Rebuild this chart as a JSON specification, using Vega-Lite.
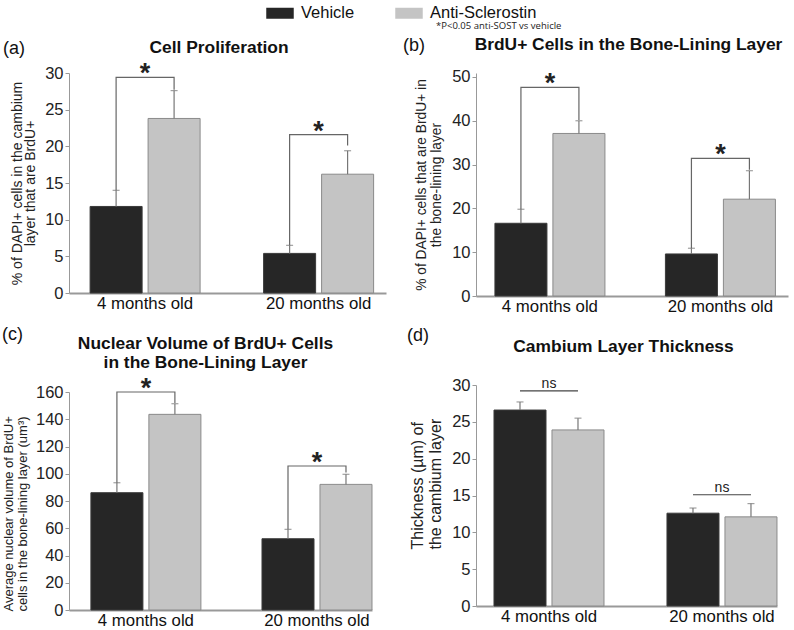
{
  "$schema": "https://vega.github.io/schema/vega-lite/v6.json",
  "padding": {"left": 2, "top": 2, "right": 4, "bottom": 0},
  "background": "white",
  "title": {"text": "*P<0.05 anti-SOST vs vehicle", "anchor": "start", "frame": "group", "dx": 367, "offset": -28, "fontSize": 9.5, "fontWeight": "normal", "font": "Open Sans", "color": "#222"},
  "datasets": {
    "a_bars": [
      {"age": "4 months old", "group": "Vehicle", "mean": 11.8, "upper": 14.0},
      {"age": "4 months old", "group": "Anti-Sclerostin", "mean": 23.8, "upper": 27.6},
      {"age": "20 months old", "group": "Vehicle", "mean": 5.4, "upper": 6.5},
      {"age": "20 months old", "group": "Anti-Sclerostin", "mean": 16.2, "upper": 19.4}
    ],
    "a_sig": [
      {"age": "4 months old", "group": "Vehicle", "step": 1, "value": 14.0},
      {"age": "4 months old", "group": "Vehicle", "step": 2, "value": 29.4},
      {"age": "4 months old", "group": "Anti-Sclerostin", "step": 3, "value": 29.4},
      {"age": "4 months old", "group": "Anti-Sclerostin", "step": 4, "value": 27.7},
      {"age": "20 months old", "group": "Vehicle", "step": 1, "value": 6.5},
      {"age": "20 months old", "group": "Vehicle", "step": 2, "value": 21.6},
      {"age": "20 months old", "group": "Anti-Sclerostin", "step": 3, "value": 21.6},
      {"age": "20 months old", "group": "Anti-Sclerostin", "step": 4, "value": 20.1}
    ],
    "a_lab": [
      {"age": "4 months old", "label": "*", "value": 29.4},
      {"age": "20 months old", "label": "*", "value": 21.6}
    ],
    "b_bars": [
      {"age": "4 months old", "group": "Vehicle", "mean": 16.6, "upper": 19.8},
      {"age": "4 months old", "group": "Anti-Sclerostin", "mean": 37.1, "upper": 40.0},
      {"age": "20 months old", "group": "Vehicle", "mean": 9.6, "upper": 10.9},
      {"age": "20 months old", "group": "Anti-Sclerostin", "mean": 22.1, "upper": 28.6}
    ],
    "b_sig": [
      {"age": "4 months old", "group": "Vehicle", "step": 1, "value": 19.8},
      {"age": "4 months old", "group": "Vehicle", "step": 2, "value": 47.6},
      {"age": "4 months old", "group": "Anti-Sclerostin", "step": 3, "value": 47.6},
      {"age": "4 months old", "group": "Anti-Sclerostin", "step": 4, "value": 40.2},
      {"age": "20 months old", "group": "Vehicle", "step": 1, "value": 10.9},
      {"age": "20 months old", "group": "Vehicle", "step": 2, "value": 31.4},
      {"age": "20 months old", "group": "Anti-Sclerostin", "step": 3, "value": 31.4},
      {"age": "20 months old", "group": "Anti-Sclerostin", "step": 4, "value": 28.8}
    ],
    "b_lab": [
      {"age": "4 months old", "label": "*", "value": 47.6},
      {"age": "20 months old", "label": "*", "value": 31.4}
    ],
    "c_bars": [
      {"age": "4 months old", "group": "Vehicle", "mean": 86.1, "upper": 93.4},
      {"age": "4 months old", "group": "Anti-Sclerostin", "mean": 143.6, "upper": 151.4},
      {"age": "20 months old", "group": "Vehicle", "mean": 52.3, "upper": 59.2},
      {"age": "20 months old", "group": "Anti-Sclerostin", "mean": 92.2, "upper": 99.6}
    ],
    "c_sig": [
      {"age": "4 months old", "group": "Vehicle", "step": 1, "value": 93.4},
      {"age": "4 months old", "group": "Vehicle", "step": 2, "value": 160},
      {"age": "4 months old", "group": "Anti-Sclerostin", "step": 3, "value": 160},
      {"age": "4 months old", "group": "Anti-Sclerostin", "step": 4, "value": 152},
      {"age": "20 months old", "group": "Vehicle", "step": 1, "value": 59.2},
      {"age": "20 months old", "group": "Vehicle", "step": 2, "value": 105.7},
      {"age": "20 months old", "group": "Anti-Sclerostin", "step": 3, "value": 105.7},
      {"age": "20 months old", "group": "Anti-Sclerostin", "step": 4, "value": 101}
    ],
    "c_lab": [
      {"age": "4 months old", "label": "*", "value": 160},
      {"age": "20 months old", "label": "*", "value": 105.7}
    ],
    "d_bars": [
      {"age": "4 months old", "group": "Vehicle", "mean": 26.6, "upper": 27.7},
      {"age": "4 months old", "group": "Anti-Sclerostin", "mean": 23.9, "upper": 25.5},
      {"age": "20 months old", "group": "Vehicle", "mean": 12.6, "upper": 13.3},
      {"age": "20 months old", "group": "Anti-Sclerostin", "mean": 12.1, "upper": 13.9}
    ],
    "d_sig": [
      {"age": "4 months old", "group": "Vehicle", "step": 1, "value": 29.2},
      {"age": "4 months old", "group": "Anti-Sclerostin", "step": 2, "value": 29.2},
      {"age": "20 months old", "group": "Vehicle", "step": 1, "value": 15.1},
      {"age": "20 months old", "group": "Anti-Sclerostin", "step": 2, "value": 15.1}
    ],
    "d_lab": [
      {"age": "4 months old", "label": "ns", "value": 29.2},
      {"age": "20 months old", "label": "ns", "value": 15.1}
    ]
  },
  "hconcat": [
    {
      "spacing": 14,
      "vconcat": [
        {
          "width": 317, "height": 220,
          "title": {"text": "(a)", "anchor": "start", "frame": "group", "dx": -66, "offset": -20},
          "resolve": {"axis": {"x": "independent"}},
          "layer": [
            {
              "data": {"name": "a_bars"},
              "mark": {"type": "bar", "strokeWidth": 1},
              "encoding": {
                "x": {"field": "age", "type": "nominal", "scale": {"domain": ["4 months old", "20 months old"], "paddingInner": 0.366, "paddingOuter": 0.0965, "align": 0.63}, "axis": {"orient": "bottom", "title": null}},
                "xOffset": {"field": "group", "type": "nominal", "scale": {"domain": ["Vehicle", "Anti-Sclerostin"], "paddingInner": 0.103}},
                "y": {"field": "mean", "type": "quantitative", "scale": {"domain": [0, 30], "nice": false}, "axis": {"values": [0, 5, 10, 15, 20, 25, 30], "title": ["% of DAPI+ cells in the cambium", "layer that are BrdU+"], "titleFontSize": 14, "titleLineHeight": 13.5, "titlePadding": 7}},
                "color": {"field": "group", "type": "nominal", "scale": {"domain": ["Vehicle", "Anti-Sclerostin"], "range": ["#262626", "#c4c4c4"]}, "legend": {"orient": "none", "legendX": 200, "legendY": -71, "direction": "horizontal", "title": null}},
                "stroke": {"field": "group", "type": "nominal", "scale": {"domain": ["Vehicle", "Anti-Sclerostin"], "range": ["#3a3a3a", "#8a8a8a"]}, "legend": null}
              }
            },
            {
              "data": {"name": "a_bars"},
              "mark": {"type": "rule", "color": "#777", "strokeWidth": 1.2},
              "encoding": {
                "x": {"field": "age", "type": "nominal", "axis": null},
                "xOffset": {"field": "group", "type": "nominal"},
                "y": {"field": "mean", "type": "quantitative", "axis": {"values": [0, 5, 10, 15, 20, 25, 30], "title": ["% of DAPI+ cells in the cambium", "layer that are BrdU+"], "titleFontSize": 14, "titleLineHeight": 13.5, "titlePadding": 7}},
                "y2": {"field": "upper"}
              }
            },
            {
              "data": {"name": "a_bars"},
              "mark": {"type": "tick", "orient": "horizontal", "size": 7, "thickness": 1.2, "color": "#777"},
              "encoding": {
                "x": {"field": "age", "type": "nominal", "axis": null},
                "xOffset": {"field": "group", "type": "nominal"},
                "y": {"field": "upper", "type": "quantitative", "axis": {"values": [0, 5, 10, 15, 20, 25, 30], "title": ["% of DAPI+ cells in the cambium", "layer that are BrdU+"], "titleFontSize": 14, "titleLineHeight": 13.5, "titlePadding": 7}}
              }
            },
            {
              "data": {"name": "a_sig"},
              "mark": {"type": "line", "color": "#666", "strokeWidth": 1.2},
              "encoding": {
                "x": {"field": "age", "type": "nominal", "axis": {"orient": "top", "title": "Cell Proliferation", "labels": false, "ticks": false, "domain": false, "titleX": 149.5, "titlePadding": 17}},
                "xOffset": {"field": "group", "type": "nominal"},
                "y": {"field": "value", "type": "quantitative", "axis": {"values": [0, 5, 10, 15, 20, 25, 30], "title": ["% of DAPI+ cells in the cambium", "layer that are BrdU+"], "titleFontSize": 14, "titleLineHeight": 13.5, "titlePadding": 7}},
                "detail": {"field": "age"},
                "order": {"field": "step", "type": "quantitative"}
              }
            },
            {
              "data": {"name": "a_lab"},
              "mark": {"type": "text", "fontSize": 27, "fontWeight": "bold", "baseline": "alphabetic", "dy": 5, "color": "#222"},
              "encoding": {
                "x": {"field": "age", "type": "nominal", "axis": null},
                "y": {"field": "value", "type": "quantitative", "axis": {"values": [0, 5, 10, 15, 20, 25, 30], "title": ["% of DAPI+ cells in the cambium", "layer that are BrdU+"], "titleFontSize": 14, "titleLineHeight": 13.5, "titlePadding": 7}},
                "text": {"field": "label"}
              }
            }
          ]
        },
        {
          "width": 303, "height": 218,
          "title": {"text": "(c)", "anchor": "start", "frame": "group", "dx": -67, "offset": -10},
          "resolve": {"axis": {"x": "independent"}},
          "layer": [
            {
              "data": {"name": "c_bars"},
              "mark": {"type": "bar", "strokeWidth": 1},
              "encoding": {
                "x": {"field": "age", "type": "nominal", "scale": {"domain": ["4 months old", "20 months old"], "paddingInner": 0.357, "paddingOuter": 0.064, "align": 1}, "axis": {"orient": "bottom", "title": null}},
                "xOffset": {"field": "group", "type": "nominal", "scale": {"domain": ["Vehicle", "Anti-Sclerostin"], "paddingInner": 0.103}},
                "y": {"field": "mean", "type": "quantitative", "scale": {"domain": [0, 160], "nice": false}, "axis": {"values": [0, 20, 40, 60, 80, 100, 120, 140, 160], "title": ["Average nuclear volume of BrdU+", "cells in  the bone-lining layer (um³)"], "titleFontSize": 13, "titleLineHeight": 14, "titlePadding": 6, "titleAlign": "left", "titleY": 219}},
                "color": {"field": "group", "type": "nominal", "scale": {"domain": ["Vehicle", "Anti-Sclerostin"], "range": ["#262626", "#c4c4c4"]}, "legend": {"orient": "none", "legendX": 200, "legendY": -71, "direction": "horizontal", "title": null}},
                "stroke": {"field": "group", "type": "nominal", "scale": {"domain": ["Vehicle", "Anti-Sclerostin"], "range": ["#3a3a3a", "#8a8a8a"]}, "legend": null}
              }
            },
            {
              "data": {"name": "c_bars"},
              "mark": {"type": "rule", "color": "#777", "strokeWidth": 1.2},
              "encoding": {
                "x": {"field": "age", "type": "nominal", "axis": null},
                "xOffset": {"field": "group", "type": "nominal"},
                "y": {"field": "mean", "type": "quantitative", "axis": {"values": [0, 20, 40, 60, 80, 100, 120, 140, 160], "title": ["Average nuclear volume of BrdU+", "cells in  the bone-lining layer (um³)"], "titleFontSize": 13, "titleLineHeight": 14, "titlePadding": 6, "titleAlign": "left", "titleY": 219}},
                "y2": {"field": "upper"}
              }
            },
            {
              "data": {"name": "c_bars"},
              "mark": {"type": "tick", "orient": "horizontal", "size": 7, "thickness": 1.2, "color": "#777"},
              "encoding": {
                "x": {"field": "age", "type": "nominal", "axis": null},
                "xOffset": {"field": "group", "type": "nominal"},
                "y": {"field": "upper", "type": "quantitative", "axis": {"values": [0, 20, 40, 60, 80, 100, 120, 140, 160], "title": ["Average nuclear volume of BrdU+", "cells in  the bone-lining layer (um³)"], "titleFontSize": 13, "titleLineHeight": 14, "titlePadding": 6, "titleAlign": "left", "titleY": 219}}
              }
            },
            {
              "data": {"name": "c_sig"},
              "mark": {"type": "line", "color": "#666", "strokeWidth": 1.2},
              "encoding": {
                "x": {"field": "age", "type": "nominal", "axis": {"orient": "top", "title": ["Nuclear Volume of BrdU+ Cells", "in the Bone-Lining Layer"], "labels": false, "ticks": false, "domain": false, "titleX": 136, "titlePadding": 21, "titleLineHeight": 19}},
                "xOffset": {"field": "group", "type": "nominal"},
                "y": {"field": "value", "type": "quantitative", "axis": {"values": [0, 20, 40, 60, 80, 100, 120, 140, 160], "title": ["Average nuclear volume of BrdU+", "cells in  the bone-lining layer (um³)"], "titleFontSize": 13, "titleLineHeight": 14, "titlePadding": 6, "titleAlign": "left", "titleY": 219}},
                "detail": {"field": "age"},
                "order": {"field": "step", "type": "quantitative"}
              }
            },
            {
              "data": {"name": "c_lab"},
              "mark": {"type": "text", "fontSize": 27, "fontWeight": "bold", "baseline": "alphabetic", "dy": 5, "color": "#222"},
              "encoding": {
                "x": {"field": "age", "type": "nominal", "axis": null},
                "y": {"field": "value", "type": "quantitative", "axis": {"values": [0, 20, 40, 60, 80, 100, 120, 140, 160], "title": ["Average nuclear volume of BrdU+", "cells in  the bone-lining layer (um³)"], "titleFontSize": 13, "titleLineHeight": 14, "titlePadding": 6, "titleAlign": "left", "titleY": 219}},
                "text": {"field": "label"}
              }
            }
          ]
        }
      ]
    },
    {
      "spacing": 12,
      "vconcat": [
        {
          "width": 312, "height": 223,
          "title": {"text": "(b)", "anchor": "start", "frame": "group", "dx": -73, "offset": -20},
          "resolve": {"axis": {"x": "independent"}},
          "layer": [
            {
              "data": {"name": "b_bars"},
              "mark": {"type": "bar", "strokeWidth": 1},
              "encoding": {
                "x": {"field": "age", "type": "nominal", "scale": {"domain": ["4 months old", "20 months old"], "paddingInner": 0.355, "paddingOuter": 0.0925, "align": 0.6}, "axis": {"orient": "bottom", "title": null}},
                "xOffset": {"field": "group", "type": "nominal", "scale": {"domain": ["Vehicle", "Anti-Sclerostin"], "paddingInner": 0.103}},
                "y": {"field": "mean", "type": "quantitative", "scale": {"domain": [0, 50.9], "nice": false}, "axis": {"values": [0, 10, 20, 30, 40, 50], "title": ["% of DAPI+ cells that are BrdU+ in", "the bone-lining layer"], "titleFontSize": 13.8, "titleLineHeight": 15, "titlePadding": 8}},
                "color": {"field": "group", "type": "nominal", "scale": {"domain": ["Vehicle", "Anti-Sclerostin"], "range": ["#262626", "#c4c4c4"]}, "legend": {"orient": "none", "legendX": 200, "legendY": -71, "direction": "horizontal", "title": null}},
                "stroke": {"field": "group", "type": "nominal", "scale": {"domain": ["Vehicle", "Anti-Sclerostin"], "range": ["#3a3a3a", "#8a8a8a"]}, "legend": null}
              }
            },
            {
              "data": {"name": "b_bars"},
              "mark": {"type": "rule", "color": "#777", "strokeWidth": 1.2},
              "encoding": {
                "x": {"field": "age", "type": "nominal", "axis": null},
                "xOffset": {"field": "group", "type": "nominal"},
                "y": {"field": "mean", "type": "quantitative", "axis": {"values": [0, 10, 20, 30, 40, 50], "title": ["% of DAPI+ cells that are BrdU+ in", "the bone-lining layer"], "titleFontSize": 13.8, "titleLineHeight": 15, "titlePadding": 8}},
                "y2": {"field": "upper"}
              }
            },
            {
              "data": {"name": "b_bars"},
              "mark": {"type": "tick", "orient": "horizontal", "size": 7, "thickness": 1.2, "color": "#777"},
              "encoding": {
                "x": {"field": "age", "type": "nominal", "axis": null},
                "xOffset": {"field": "group", "type": "nominal"},
                "y": {"field": "upper", "type": "quantitative", "axis": {"values": [0, 10, 20, 30, 40, 50], "title": ["% of DAPI+ cells that are BrdU+ in", "the bone-lining layer"], "titleFontSize": 13.8, "titleLineHeight": 15, "titlePadding": 8}}
              }
            },
            {
              "data": {"name": "b_sig"},
              "mark": {"type": "line", "color": "#666", "strokeWidth": 1.2},
              "encoding": {
                "x": {"field": "age", "type": "nominal", "axis": {"orient": "top", "title": "BrdU+ Cells in the Bone-Lining Layer", "labels": false, "ticks": false, "domain": false, "titleX": 152, "titlePadding": 20}},
                "xOffset": {"field": "group", "type": "nominal"},
                "y": {"field": "value", "type": "quantitative", "axis": {"values": [0, 10, 20, 30, 40, 50], "title": ["% of DAPI+ cells that are BrdU+ in", "the bone-lining layer"], "titleFontSize": 13.8, "titleLineHeight": 15, "titlePadding": 8}},
                "detail": {"field": "age"},
                "order": {"field": "step", "type": "quantitative"}
              }
            },
            {
              "data": {"name": "b_lab"},
              "mark": {"type": "text", "fontSize": 27, "fontWeight": "bold", "baseline": "alphabetic", "dy": 5, "color": "#222"},
              "encoding": {
                "x": {"field": "age", "type": "nominal", "axis": null},
                "y": {"field": "value", "type": "quantitative", "axis": {"values": [0, 10, 20, 30, 40, 50], "title": ["% of DAPI+ cells that are BrdU+ in", "the bone-lining layer"], "titleFontSize": 13.8, "titleLineHeight": 15, "titlePadding": 8}},
                "text": {"field": "label"}
              }
            }
          ]
        },
        {
          "width": 301, "height": 221,
          "title": {"text": "(d)", "anchor": "start", "frame": "group", "dx": -69, "offset": -8},
          "resolve": {"axis": {"x": "independent"}},
          "layer": [
            {
              "data": {"name": "d_bars"},
              "mark": {"type": "bar", "strokeWidth": 1},
              "encoding": {
                "x": {"field": "age", "type": "nominal", "scale": {"domain": ["4 months old", "20 months old"], "paddingInner": 0.364, "paddingOuter": 0.052, "align": 1}, "axis": {"orient": "bottom", "title": null}},
                "xOffset": {"field": "group", "type": "nominal", "scale": {"domain": ["Vehicle", "Anti-Sclerostin"], "paddingInner": 0.103}},
                "y": {"field": "mean", "type": "quantitative", "scale": {"domain": [0, 30], "nice": false}, "axis": {"values": [0, 5, 10, 15, 20, 25, 30], "title": ["Thickness (µm) of", "the cambium layer"], "titleFontSize": 16, "titleLineHeight": 18, "titlePadding": 8, "titleAlign": "left", "titleY": 164}},
                "color": {"field": "group", "type": "nominal", "scale": {"domain": ["Vehicle", "Anti-Sclerostin"], "range": ["#262626", "#c4c4c4"]}, "legend": {"orient": "none", "legendX": 200, "legendY": -71, "direction": "horizontal", "title": null}},
                "stroke": {"field": "group", "type": "nominal", "scale": {"domain": ["Vehicle", "Anti-Sclerostin"], "range": ["#3a3a3a", "#8a8a8a"]}, "legend": null}
              }
            },
            {
              "data": {"name": "d_bars"},
              "mark": {"type": "rule", "color": "#777", "strokeWidth": 1.2},
              "encoding": {
                "x": {"field": "age", "type": "nominal", "axis": null},
                "xOffset": {"field": "group", "type": "nominal"},
                "y": {"field": "mean", "type": "quantitative", "axis": {"values": [0, 5, 10, 15, 20, 25, 30], "title": ["Thickness (µm) of", "the cambium layer"], "titleFontSize": 16, "titleLineHeight": 18, "titlePadding": 8, "titleAlign": "left", "titleY": 164}},
                "y2": {"field": "upper"}
              }
            },
            {
              "data": {"name": "d_bars"},
              "mark": {"type": "tick", "orient": "horizontal", "size": 7, "thickness": 1.2, "color": "#777"},
              "encoding": {
                "x": {"field": "age", "type": "nominal", "axis": null},
                "xOffset": {"field": "group", "type": "nominal"},
                "y": {"field": "upper", "type": "quantitative", "axis": {"values": [0, 5, 10, 15, 20, 25, 30], "title": ["Thickness (µm) of", "the cambium layer"], "titleFontSize": 16, "titleLineHeight": 18, "titlePadding": 8, "titleAlign": "left", "titleY": 164}}
              }
            },
            {
              "data": {"name": "d_sig"},
              "mark": {"type": "line", "color": "#444", "strokeWidth": 1.2},
              "encoding": {
                "x": {"field": "age", "type": "nominal", "axis": {"orient": "top", "title": "Cambium Layer Thickness", "labels": false, "ticks": false, "domain": false, "titleX": 147, "titlePadding": 30}},
                "xOffset": {"field": "group", "type": "nominal"},
                "y": {"field": "value", "type": "quantitative", "axis": {"values": [0, 5, 10, 15, 20, 25, 30], "title": ["Thickness (µm) of", "the cambium layer"], "titleFontSize": 16, "titleLineHeight": 18, "titlePadding": 8, "titleAlign": "left", "titleY": 164}},
                "detail": {"field": "age"},
                "order": {"field": "step", "type": "quantitative"}
              }
            },
            {
              "data": {"name": "d_lab"},
              "mark": {"type": "text", "fontSize": 14, "baseline": "alphabetic", "dy": -3, "color": "#222"},
              "encoding": {
                "x": {"field": "age", "type": "nominal", "axis": null},
                "y": {"field": "value", "type": "quantitative", "axis": {"values": [0, 5, 10, 15, 20, 25, 30], "title": ["Thickness (µm) of", "the cambium layer"], "titleFontSize": 16, "titleLineHeight": 18, "titlePadding": 8, "titleAlign": "left", "titleY": 164}},
                "text": {"field": "label"}
              }
            }
          ]
        }
      ]
    }
  ],
  "spacing": 17,
  "config": {
    "font": "Liberation Sans",
    "view": {"stroke": null},
    "title": {"fontSize": 18, "fontWeight": "normal", "color": "#111"},
    "axis": {"grid": false, "labelColor": "#222", "titleColor": "#222", "titleFontWeight": "normal"},
    "axisY": {"domainColor": "#999", "tickColor": "#999", "tickSize": 4, "labelFontSize": 16.5, "labelPadding": 2},
    "axisBottom": {"domainColor": "#999", "domainWidth": 2, "ticks": false, "labelFontSize": 16.8, "labelPadding": 2, "labelAngle": 0, "labelColor": "#111"},
    "axisTop": {"titleFontSize": 17.4, "titleFontWeight": "bold", "titleColor": "#111"},
    "legend": {"symbolType": "M-1.25,-0.5H1.25V0.5H-1.25Z", "symbolSize": 484, "symbolStrokeWidth": 0, "labelFontSize": 16.5, "labelOffset": 10, "columnPadding": 40, "labelColor": "#111"}
  }
}
